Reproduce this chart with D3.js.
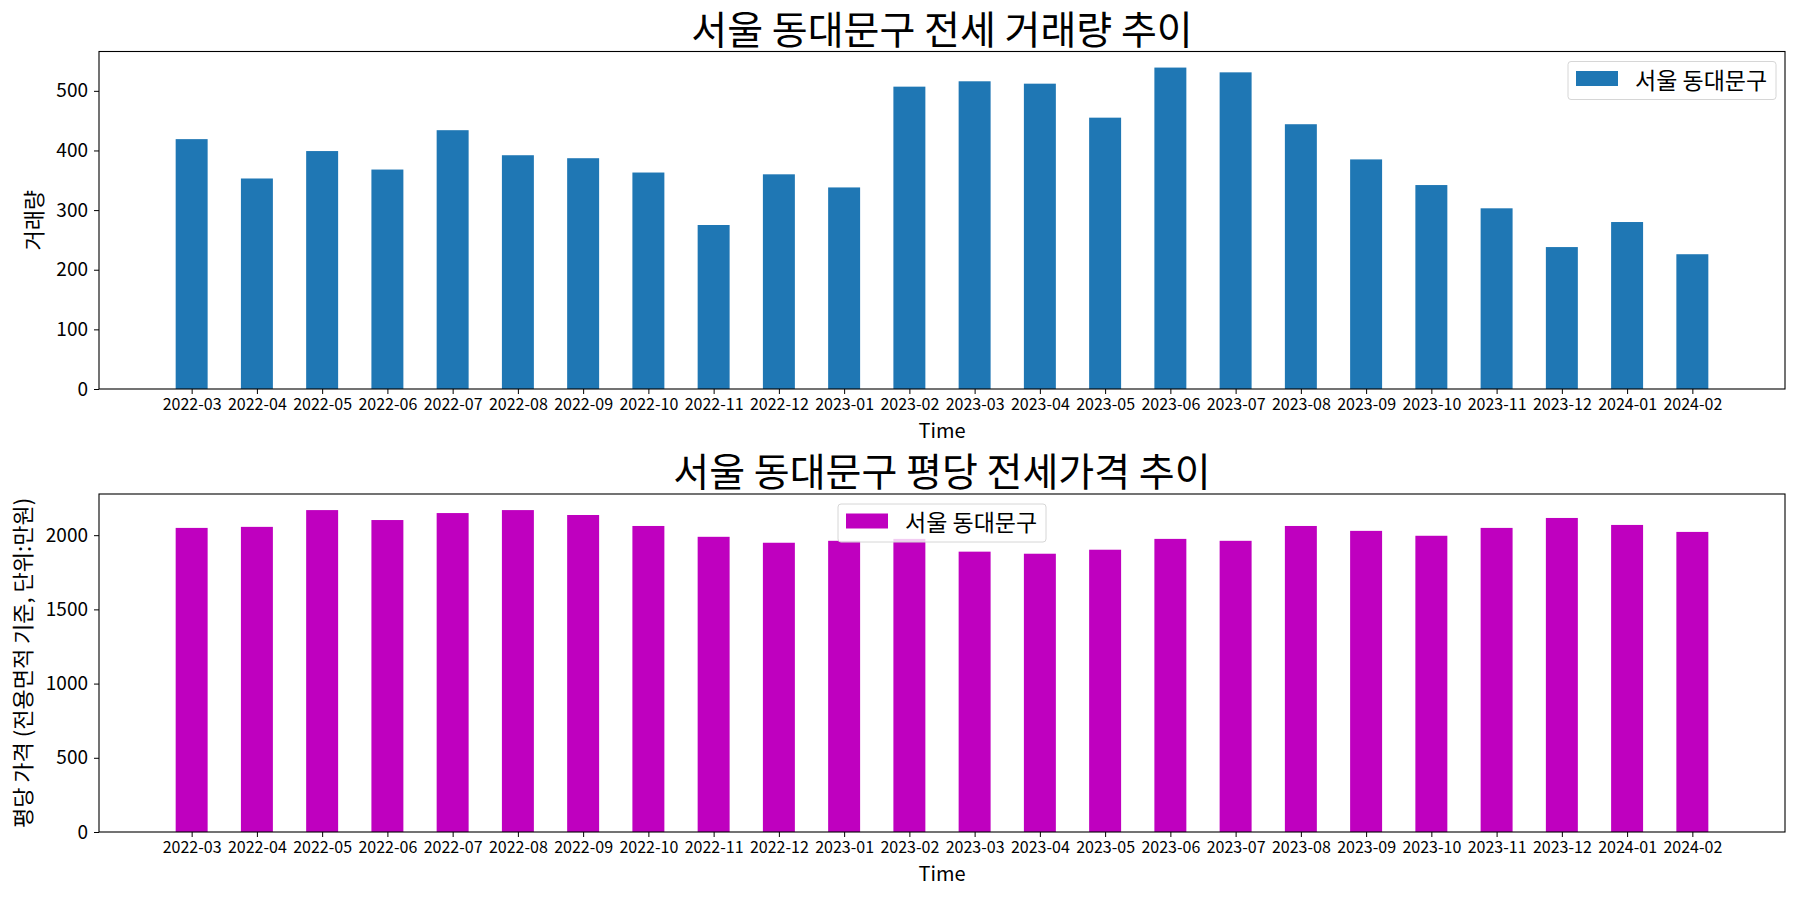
<!DOCTYPE html>
<meta charset="utf-8">
<style>
body { margin: 0; background: #fff; }
text { font-family: "Noto Sans CJK KR", "Noto Sans", sans-serif; fill: #000; }
.axis path, .axis line { stroke: #000; }
</style>
<svg width="1800" height="900"></svg>
<script src="https://cdn.jsdelivr.net/npm/d3@7/dist/d3.min.js"></script>
<script>

var months = ["2022-03","2022-04","2022-05","2022-06","2022-07","2022-08","2022-09","2022-10","2022-11","2022-12",
              "2023-01","2023-02","2023-03","2023-04","2023-05","2023-06","2023-07","2023-08","2023-09","2023-10",
              "2023-11","2023-12","2024-01","2024-02"];

var volume = [419, 353, 399, 368, 434, 392, 387, 363, 275, 360, 338, 507,
              516, 512, 455, 539, 531, 444, 385, 342, 303, 238, 280, 226];

var price = [2049, 2056, 2169, 2102, 2149, 2169, 2136, 2062, 1989, 1949, 1962, 1975,
             1889, 1875, 1902, 1975, 1962, 2062, 2029, 1996, 2049, 2116, 2069, 2022];

var volumeTicks = [0, 100, 200, 300, 400, 500];
var priceTicks = [0, 500, 1000, 1500, 2000];

var svg = d3.select("svg");

var left = 99, right = 1785;

var x = d3.scaleLinear()
    .domain([-1.42, months.length - 1 + 1.42])
    .range([left, right]);

var barW = x(0.49) - x(0);

function panel(opt) {
  var y = d3.scaleLinear()
      .domain([0, d3.max(opt.values) * 1.05])
      .range([opt.bottom, opt.top]);

  var g = svg.append("g");

  g.selectAll("rect.bar")
    .data(opt.values)
    .enter().append("rect")
      .attr("class", "bar")
      .attr("x", function(d, i) { return x(i) - barW / 2; })
      .attr("width", barW)
      .attr("y", function(d) { return y(d); })
      .attr("height", function(d) { return y(0) - y(d); })
      .attr("fill", opt.color);

  // frame
  g.append("rect")
    .attr("x", left).attr("y", opt.top)
    .attr("width", right - left).attr("height", opt.bottom - opt.top)
    .attr("fill", "none").attr("stroke", "#000").attr("stroke-width", 1.1);

  var xa = g.append("g")
    .attr("class", "axis")
    .attr("transform", "translate(0," + opt.bottom + ")")
    .call(d3.axisBottom(x)
      .tickValues(d3.range(months.length))
      .tickFormat(function(i) { return months[i]; })
      .tickSize(5).tickPadding(5));
  xa.select(".domain").remove();
  xa.selectAll("text").style("font-size", "16px");

  var ya = g.append("g")
    .attr("class", "axis")
    .attr("transform", "translate(" + left + ",0)")
    .call(d3.axisLeft(y).tickValues(opt.ticks).tickFormat(d3.format("d"))
      .tickSize(5).tickPadding(6));
  ya.select(".domain").remove();
  ya.selectAll("text").style("font-size", "19px");

  g.append("text")
    .attr("x", (left + right) / 2)
    .attr("y", opt.top - 8)
    .attr("text-anchor", "middle")
    .style("font-size", "39px")
    .text(opt.title);

  g.append("text")
    .attr("x", (left + right) / 2)
    .attr("y", opt.bottom + 49)
    .attr("text-anchor", "middle")
    .style("font-size", "20px")
    .text("Time");

  g.append("text")
    .attr("transform", "translate(" + opt.ylabelX + "," + (opt.top + opt.bottom) / 2 + ") rotate(-90)")
    .attr("text-anchor", "middle")
    .attr("dy", "0.35em")
    .style("font-size", "22px")
    .text(opt.ylabel);

  // legend
  var lw = 208, lh = 38;
  var lx = opt.legendCenter ? (left + right) / 2 - lw / 2 : right - 9 - lw;
  var ly = opt.top + 10;
  var lg = g.append("g").attr("transform", "translate(" + lx + "," + ly + ")");
  lg.append("rect")
    .attr("width", lw).attr("height", lh).attr("rx", 3)
    .attr("fill", "#fff").attr("fill-opacity", 0.8)
    .attr("stroke", "#d6d6d6");
  lg.append("rect")
    .attr("x", 8).attr("y", 9.5).attr("width", 42).attr("height", 15)
    .attr("fill", opt.color);
  lg.append("text")
    .attr("x", 67).attr("y", lh / 2).attr("dy", "0.35em")
    .style("font-size", "23px")
    .text("서울 동대문구");
}

panel({
  values: volume, ticks: volumeTicks, color: "#1f77b4",
  top: 51.5, bottom: 389,
  title: "서울 동대문구 전세 거래량 추이",
  ylabel: "거래량", ylabelX: 34, legendCenter: false
});

panel({
  values: price, ticks: priceTicks, color: "#bf00bf",
  top: 494, bottom: 832,
  title: "서울 동대문구 평당 전세가격 추이",
  ylabel: "평당 가격 (전용면적 기준, 단위:만원)", ylabelX: 23, legendCenter: true
});

</script>
